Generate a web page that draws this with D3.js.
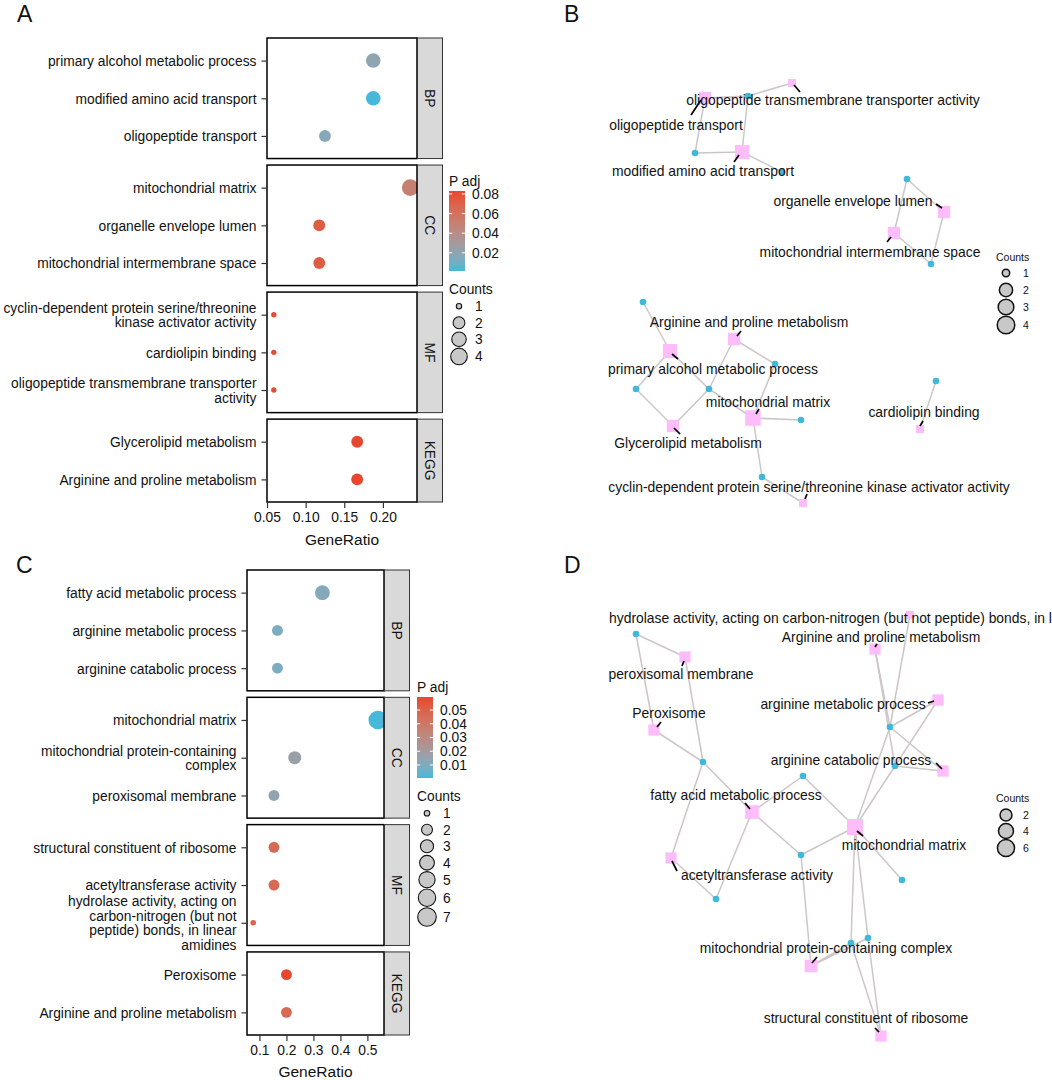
<!DOCTYPE html>
<html><head><meta charset="utf-8">
<script src="https://cdn.jsdelivr.net/npm/d3@7"></script>
<style>body{margin:0;background:#fff;} text{font-family:"Liberation Sans",Arial,Helvetica,sans-serif;}</style>
</head><body><script>
// ---------------- DATA ----------------
const FACETS = ["BP","CC","MF","KEGG"];

// Panel A (dot plot)
const A_terms = ["primary alcohol metabolic process","modified amino acid transport","oligopeptide transport",
  "mitochondrial matrix","organelle envelope lumen","mitochondrial intermembrane space",
  "cyclin-dependent protein serine/threonine\nkinase activator activity","cardiolipin binding","oligopeptide transmembrane transporter\nactivity",
  "Glycerolipid metabolism","Arginine and proline metabolism"];
const A_ontology = ["BP","BP","BP","CC","CC","CC","MF","MF","MF","KEGG","KEGG"];
const A_geneRatio = [0.1875,0.1875,0.125,0.2353,0.1176,0.1176,0.0588,0.0588,0.0588,0.1667,0.1667];
const A_padj = [0.020,0.0015,0.017,0.050,0.073,0.073,0.081,0.081,0.081,0.083,0.083];
const A_counts = [3,3,2,4,2,2,1,1,1,2,2];
const A_ratioTicks = [0.05,0.10,0.15,0.20];
const A_padjTicks = [0.02,0.04,0.06,0.08];
const A_countKeys = [1,2,3,4];

// Panel C (dot plot)
const C_terms = ["fatty acid metabolic process","arginine metabolic process","arginine catabolic process",
  "mitochondrial matrix","mitochondrial protein-containing\ncomplex","peroxisomal membrane",
  "structural constituent of ribosome","acetyltransferase activity","hydrolase activity, acting on\ncarbon-nitrogen (but not\npeptide) bonds, in linear\namidines",
  "Peroxisome","Arginine and proline metabolism"];
const C_ontology = ["BP","BP","BP","CC","CC","CC","MF","MF","MF","KEGG","KEGG"];
const C_geneRatio = [0.3333,0.1667,0.1667,0.5385,0.2308,0.1538,0.1538,0.1538,0.0769,0.2,0.2];
const C_padj = [0.011,0.009,0.009,0.0005,0.017,0.014,0.046,0.046,0.050,0.0595,0.047];
const C_counts = [4,2,2,7,3,2,2,2,1,2,2];
const C_ratioTicks = [0.1,0.2,0.3,0.4,0.5];
const C_padjTicks = [0.01,0.02,0.03,0.04,0.05];
const C_countKeys = [1,2,3,4,5,6,7];

// Panel B (gene-concept network) — layout coordinates (panel-local units)
const B_termNames = ["oligopeptide transmembrane transporter activity","oligopeptide transport","modified amino acid transport",
  "organelle envelope lumen","mitochondrial intermembrane space","Arginine and proline metabolism","primary alcohol metabolic process",
  "mitochondrial matrix","Glycerolipid metabolism","cardiolipin binding","cyclin-dependent protein serine/threonine kinase activator activity"];
const B_termCounts = [1,2,3,2,2,2,3,4,2,1,1];
const B_termLayout = [[272,83],[185,98],[222,152],[424,212],[374,233],[214,339],[150,351],[233,418],[153,426],[400,429],[283,503]];
const B_geneLayout = [[228,96],[175,153],[262,172],[387,179],[411,264],[123,302],[255,364],[116,389],[189,389],[281,420],[242,477],[416,381]];
const B_edges = [[0,0],[1,0],[1,1],[2,0],[2,1],[2,2],[3,3],[3,4],[4,3],[4,4],[6,5],[6,7],[6,8],[8,7],[8,8],[5,8],[5,6],[7,8],[7,6],[7,9],[7,10],[10,10],[9,11]];
const B_labelLayout = [[313,100],[156,125],[183,171],[333,201],[350,252],[229,322],[193,369],[248,402],[168,443],[404,412],[289,487]];
const B_leaders = [[2,2,8,9],[-4,2,-14,17],[-3,3,-8,10],[-8,-8,-2,-4],[-3,4,-7,9],[3,-3,7,-8],[2,3,8,8],[3,-4,6,-9],[1,2,7,8],[0,-3,3,-8],[2,-4,4,-9]];
const B_countKeys = [1,2,3,4];

// Panel D (gene-concept network)
const D_termNames = ["hydrolase activity, acting on carbon-nitrogen (but not peptide) bonds, in linear amidines","peroxisomal membrane",
  "Arginine and proline metabolism","arginine metabolic process","Peroxisome","arginine catabolic process","fatty acid metabolic process",
  "mitochondrial matrix","acetyltransferase activity","mitochondrial protein-containing complex","structural constituent of ribosome"];
const D_termCounts = [1,2,2,2,2,2,4,7,2,3,2];
const D_termLayout = [[390,85],[165,127],[355,119],[418,170],[134,200],[423,241],[232,282],[335,297],[151,328],[291,436],[361,506]];
const D_geneLayout = [[116,104],[370,197],[183,232],[375,236],[283,246],[281,325],[382,350],[196,369],[331,413],[348,408]];
const D_edges = [[0,1],[1,0],[1,2],[4,0],[4,2],[2,1],[2,3],[3,1],[3,3],[5,1],[5,3],[6,2],[6,4],[6,5],[6,7],[8,2],[8,7],
  [7,1],[7,3],[7,4],[7,5],[7,6],[7,8],[7,9],[9,5],[9,8],[9,9],[10,8],[10,9]];
const D_labelLayout = [[89,88],[161,144],[361,107],[323,174],[149,183],[331,230],[216,265],[384,315],[237,345],[306,418],[346,488]];
const D_labelAnchor = ["start","middle","middle","middle","middle","middle","middle","middle","middle","middle","middle"];
const D_leaders = [null,[-1,4,-3,9],[2,-5,0,-2],[-10,3,-4,1],[3,-3,7,-8],[-7,-8,-1,-2],[-7,-9,-2,-3],[2,4,8,9],[1,3,6,13],[1,-3,6,-9],[-6,-8,-2,-4]];
const D_countKeys = [2,4,6];

// ---------------- DRAWING ----------------
const W = 1052, H = 1080;
const LOW = "#46B9DA", HIGH = "#E8472F";
const FONT = 13.8;
const TXT = "#111";
const svg = d3.select("body").append("svg").attr("width", W).attr("height", H)
  .style("font-family", '"Liberation Sans", Arial, sans-serif');
const defs = svg.append("defs");

function panelLetter(t, x, y){
  svg.append("text").attr("x", x).attr("y", y).attr("font-size", 23).attr("fill","#111").text(t);
}

function dotplot(o){
  const g = svg.append("g");
  const gap = 6.5;
  const units = FACETS.map(f => o.onto.filter(d => d === f).length - 1 + 1.2);
  const unit = (o.y1 - o.y0 - gap*(FACETS.length-1)) / d3.sum(units);
  const ext = d3.extent(o.ratio), pad = (ext[1]-ext[0])*0.05;
  const x = d3.scaleLinear().domain([ext[0]-pad, ext[1]+pad]).range([o.x0, o.x1]);
  const cdom = d3.extent(o.padj);
  const color = d3.scaleLinear().domain(cdom).range([LOW, HIGH]).interpolate(d3.interpolateLab);
  const minC = d3.min(o.counts), maxC = d3.max(o.counts);
  const r = d3.scaleSqrt().domain([0, maxC-minC]).range(o.rRange);
  let fy = o.y0;
  FACETS.forEach((f, fi) => {
    const idx = d3.range(o.terms.length).filter(i => o.onto[i] === f);
    const h = units[fi]*unit;
    const y = d3.scalePoint().domain(idx.map(i => o.terms[i])).range([fy, fy+h]).padding(0.6);
    const cid = o.id + "clip" + fi;
    defs.append("clipPath").attr("id", cid).append("rect")
      .attr("x", o.x0).attr("y", fy).attr("width", o.x1-o.x0).attr("height", h);
    g.append("g").attr("clip-path", `url(#${cid})`).selectAll("circle").data(idx).join("circle")
      .attr("cx", i => x(o.ratio[i])).attr("cy", i => y(o.terms[i]))
      .attr("r", i => r(o.counts[i]-minC)).attr("fill", i => color(o.padj[i]));
    g.append("rect").attr("x", o.x0).attr("y", fy).attr("width", o.x1-o.x0).attr("height", h)
      .attr("fill","none").attr("stroke","#000").attr("stroke-width",1.5);
    g.append("rect").attr("x", o.x1+0.5).attr("y", fy).attr("width", 25).attr("height", h)
      .attr("fill","#D9D9D9").attr("stroke","#333").attr("stroke-width",1);
    g.append("text").attr("transform", `translate(${o.x1+13},${fy+h/2}) rotate(90)`)
      .attr("text-anchor","middle").attr("dy","0.36em").attr("font-size", FONT).attr("fill",TXT).text(f);
    const ax = g.append("g").attr("transform", `translate(${o.x0},0)`)
      .call(d3.axisLeft(y).tickSize(5.5).tickPadding(5));
    ax.select(".domain").remove();
    ax.selectAll(".tick line").attr("stroke","#333").attr("stroke-width",1.2);
    ax.selectAll(".tick text").attr("font-size", FONT).attr("fill",TXT)
      .attr("font-family",'"Liberation Sans", Arial, sans-serif')
      .each(function(d){
        const el = d3.select(this), lines = d.split("\n");
        const xx = el.attr("x");
        el.text(null).attr("dy", null);
        lines.forEach((l, k) => {
          el.append("tspan").attr("x", xx)
            .attr("dy", k === 0 ? `${(-(lines.length-1)/2*1.07 + 0.35).toFixed(3)}em` : "1.07em").text(l);
        });
      });
    fy += h + gap;
  });
  const xa = g.append("g").attr("transform", `translate(0,${o.y1})`)
    .call(d3.axisBottom(x).tickValues(o.xTicks).tickFormat(d3.format(o.fmt)).tickSize(6).tickPadding(4));
  xa.select(".domain").remove();
  xa.selectAll(".tick line").attr("stroke","#333").attr("stroke-width",1.2);
  xa.selectAll(".tick text").attr("font-size", FONT).attr("fill",TXT)
    .attr("font-family",'"Liberation Sans", Arial, sans-serif');
  g.append("text").attr("x", (o.x0+o.x1)/2).attr("y", o.titleY).attr("text-anchor","middle")
    .attr("font-size", 15.5).attr("fill","#111").text("GeneRatio");

  // colour legend
  const L = o.legend;
  g.append("text").attr("x", L.x).attr("y", L.titleY).attr("font-size", FONT).attr("fill","#111").text("P adj");
  const gid = o.id + "grad";
  const grad = defs.append("linearGradient").attr("id", gid).attr("x1",0).attr("y1",1).attr("x2",0).attr("y2",0);
  d3.range(11).forEach(k => {
    const v = cdom[0] + (cdom[1]-cdom[0])*k/10;
    grad.append("stop").attr("offset", k/10).attr("stop-color", color(v));
  });
  const by = d3.scaleLinear().domain(cdom).range([L.barY1, L.barY0]);
  g.append("rect").attr("x", L.x).attr("y", L.barY0).attr("width", L.barW).attr("height", L.barY1-L.barY0)
    .attr("fill", `url(#${gid})`);
  o.padjTicks.forEach(t => {
    const yy = by(t);
    g.append("line").attr("x1", L.x).attr("x2", L.x+3.2).attr("y1", yy).attr("y2", yy).attr("stroke","#fff").attr("stroke-width",1);
    g.append("line").attr("x1", L.x+L.barW-3.2).attr("x2", L.x+L.barW).attr("y1", yy).attr("y2", yy).attr("stroke","#fff").attr("stroke-width",1);
    g.append("text").attr("x", L.x+L.barW+7).attr("y", yy).attr("dy","0.36em").attr("font-size", FONT).attr("fill",TXT)
      .text(d3.format(o.padjFmt)(t));
  });
  // size legend
  g.append("text").attr("x", L.x).attr("y", L.countY).attr("font-size", FONT).attr("fill","#111").text("Counts");
  let ky = L.countY + 4;
  o.countKeys.forEach(c => {
    const rr = r(c-minC);
    const kh = Math.max(16.5, 2*rr+1.2);
    const cy = ky + kh/2;
    g.append("circle").attr("cx", L.x+10).attr("cy", cy).attr("r", rr).attr("fill","#C8C8C8").attr("stroke","#111").attr("stroke-width",1.1);
    g.append("text").attr("x", L.x+26).attr("y", cy).attr("dy","0.36em").attr("font-size", FONT).attr("fill",TXT).text(c);
    ky += kh;
  });
}

function network(o){
  const g = svg.append("g");
  const sx = d3.scaleLinear().domain([0,100]).range([o.ox, o.ox+100]);
  const sy = d3.scaleLinear().domain([0,100]).range([o.oy, o.oy+100]);
  const minC = d3.min(o.counts), maxC = d3.max(o.counts);
  const side = d3.scaleSqrt().domain([0, maxC-minC]).range(o.sideRange);
  g.selectAll("line.edge").data(o.edges).join("line").attr("class","edge")
    .attr("x1", e => sx(o.terms[e[0]][0])).attr("y1", e => sy(o.terms[e[0]][1]))
    .attr("x2", e => sx(o.genes[e[1]][0])).attr("y2", e => sy(o.genes[e[1]][1]))
    .attr("stroke","#CDC6C6").attr("stroke-width",1.5);
  g.selectAll("circle.gene").data(o.genes).join("circle").attr("class","gene")
    .attr("cx", d => sx(d[0])).attr("cy", d => sy(d[1])).attr("r", 3.3).attr("fill","#3FB8DC");
  g.selectAll("rect.term").data(d3.range(o.terms.length)).join("rect").attr("class","term")
    .attr("x", i => sx(o.terms[i][0]) - side(o.counts[i]-minC)/2)
    .attr("y", i => sy(o.terms[i][1]) - side(o.counts[i]-minC)/2)
    .attr("width", i => side(o.counts[i]-minC)).attr("height", i => side(o.counts[i]-minC))
    .attr("fill","#FDBDFA");
  g.selectAll("line.leader").data(d3.range(o.terms.length).filter(i => o.leaders[i])).join("line").attr("class","leader")
    .attr("x1", i => sx(o.terms[i][0] + o.leaders[i][0])).attr("y1", i => sy(o.terms[i][1] + o.leaders[i][1]))
    .attr("x2", i => sx(o.terms[i][0] + o.leaders[i][2])).attr("y2", i => sy(o.terms[i][1] + o.leaders[i][3]))
    .attr("stroke","#000").attr("stroke-width",1.7);
  g.selectAll("text.lab").data(d3.range(o.terms.length)).join("text").attr("class","lab")
    .attr("x", i => sx(o.labels[i][0])).attr("y", i => sy(o.labels[i][1])).attr("dy","0.36em")
    .attr("text-anchor", i => o.anchors ? o.anchors[i] : "middle")
    .attr("font-size", 13.9).attr("fill",TXT).text(i => o.names[i]);
  // legend
  const L = o.legend;
  const lr = d3.scaleSqrt().domain([0, L.max - L.min]).range(L.rRange);
  g.append("text").attr("x", L.x).attr("y", L.titleY).attr("dy","0.36em").attr("font-size", 10.5).attr("fill","#111").text("Counts");
  o.keys.forEach((c, k) => {
    const yy = L.keyY[k];
    g.append("circle").attr("cx", L.x+10).attr("cy", yy).attr("r", lr(c-L.min)).attr("fill","#C8C8C8").attr("stroke","#111").attr("stroke-width",1.5);
    g.append("text").attr("x", L.x+27).attr("y", yy).attr("dy","0.36em").attr("font-size", 10.5).attr("fill","#111").text(c);
  });
}

panelLetter("A", 17, 22);
panelLetter("B", 564, 22);
panelLetter("C", 16, 573);
panelLetter("D", 564, 573);

dotplot({id:"A", terms:A_terms, onto:A_ontology, ratio:A_geneRatio, padj:A_padj, counts:A_counts,
  x0:267, x1:417, y0:38, y1:502, rRange:[2.7,8.3], xTicks:A_ratioTicks, fmt:".2f", titleY:545,
  padjTicks:A_padjTicks, padjFmt:".2f", countKeys:A_countKeys,
  legend:{x:449, titleY:186, barY0:191, barY1:271, barW:16, countY:294}});

dotplot({id:"C", terms:C_terms, onto:C_ontology, ratio:C_geneRatio, padj:C_padj, counts:C_counts,
  x0:247, x1:384, y0:570, y1:1035, rRange:[2.8,9.3], xTicks:C_ratioTicks, fmt:".1f", titleY:1077,
  padjTicks:C_padjTicks, padjFmt:".2f", countKeys:C_countKeys,
  legend:{x:417, titleY:692, barY0:697, barY1:778, barW:16, countY:801}});

network({ox:520, oy:0, terms:B_termLayout, genes:B_geneLayout, edges:B_edges, counts:B_termCounts, names:B_termNames,
  labels:B_labelLayout, leaders:B_leaders, sideRange:[8,15.5], keys:B_countKeys,
  legend:{x:996, titleY:257, keyY:[273,290,307,325], min:1, max:4, rRange:[3.7,8.8]}});

network({ox:520, oy:530, terms:D_termLayout, genes:D_geneLayout, edges:D_edges, counts:D_termCounts, names:D_termNames,
  labels:D_labelLayout, anchors:D_labelAnchor, leaders:D_leaders, sideRange:[8,16], keys:D_countKeys,
  legend:{x:996, titleY:798, keyY:[815,831,848], min:1, max:7, rRange:[3.9,9]}});
</script></body></html>
